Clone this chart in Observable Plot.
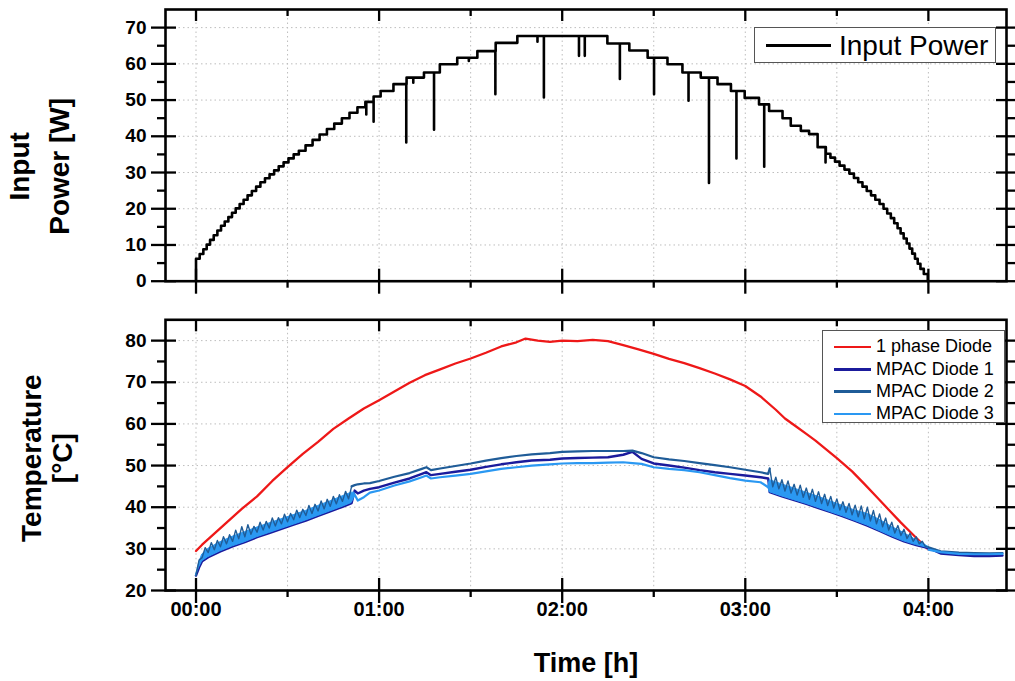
<!DOCTYPE html>
<html>
<head>
<meta charset="utf-8">
<script src="https://cdn.jsdelivr.net/npm/d3@7"></script>
<script src="https://cdn.jsdelivr.net/npm/@observablehq/plot@0.6"></script>
<style>
  body { margin: 0; background: #fff; }
  #wrap { position: relative; width: 1015px; height: 681px; overflow: hidden; background: #fff;
          font-family: "Liberation Sans", Arial, sans-serif; }
  #wrap svg { position: absolute; left: 0; overflow: visible; }
  .leg { position: absolute; background: #fff; border: 1.5px solid #555; box-sizing: border-box; }
  .leg .ln { position: absolute; }
  .leg .tx { position: absolute; white-space: nowrap; color: #000; }
</style>
</head>
<body>
<div id="wrap"></div>
<script>
// ---------- axis ticks (time in minutes) ----------
const hourTicks = [0, 60, 120, 180, 240];
const hourLabels = ["00:00", "01:00", "02:00", "03:00", "04:00"];
const halfHourTicks = [30, 90, 150, 210];
const gridX = [0, 30, 60, 90, 120, 150, 180, 210, 240];
const xDomain = [-10, 265.6];

const powerMajor = [0, 10, 20, 30, 40, 50, 60, 70];
const powerMinor = [5, 15, 25, 35, 45, 55, 65];
const powerGrid = [10, 20, 30, 40, 50, 60, 70];
const tempMajor = [20, 30, 40, 50, 60, 70, 80];
const tempMinor = [25, 35, 45, 55, 65, 75];
const tempGrid = [30, 40, 50, 60, 70, 80];

// ---------- Input power: step levels [minute, W] ----------
const powerSteps = [
  [0, 0], [0, 6.2], [1.2, 7.5], [2.4, 8.8], [3.5, 10.1], [4.6, 11.4], [5.8, 12.7], [7.0, 14.0],
  [8.2, 15.3], [9.4, 16.5], [10.6, 17.7], [11.8, 18.9], [13.0, 20.1], [14.3, 21.3], [15.6, 22.5],
  [16.9, 23.7], [18.3, 24.9], [19.7, 26.1], [21.1, 27.3], [22.6, 28.4], [24.1, 29.5], [25.6, 30.6],
  [27.1, 31.7], [28.7, 32.8], [30.3, 33.9], [32.0, 35.0], [33.7, 36.0], [35.9, 37.5], [38.2, 39.0],
  [40.5, 40.5], [42.9, 42.0], [45.3, 43.5], [47.8, 45.0], [50.3, 46.5], [52.9, 48.0], [55.5, 49.5],
  [58.2, 51.0], [60.5, 52.5], [64.7, 54.4], [69.0, 56.2], [74.7, 57.6], [79.9, 59.9], [85.6, 61.7],
  [92.2, 63.5], [98.2, 65.8], [105.3, 67.7], [134.8, 65.6], [142.0, 63.7], [148.0, 61.7],
  [154.5, 59.9], [159.4, 57.6], [165.4, 56.2], [170.9, 54.4], [175.3, 52.5], [179.8, 50.6],
  [184.5, 48.8], [187.8, 47.0], [192.2, 45.0], [194.9, 42.9], [198.2, 41.5], [200.9, 40.6],
  [203.7, 37.0], [206.4, 35.2], [207.9, 34.1], [209.4, 33.0], [210.9, 31.9], [212.5, 30.8],
  [214.1, 29.7], [215.6, 28.5], [217.0, 27.3], [218.4, 26.1], [219.8, 24.9], [221.2, 23.7],
  [222.6, 22.5], [224.0, 21.3], [225.3, 20.0], [226.5, 18.7], [227.7, 17.4], [228.8, 16.0],
  [229.9, 14.6], [230.9, 13.2], [231.9, 11.8], [232.9, 10.4], [233.8, 9.0], [234.7, 7.6],
  [235.6, 6.2], [236.5, 4.8], [237.4, 3.4], [238.5, 2.0], [239.8, 0]
];
// short drops of the input power [minute, lowest W]
const powerDips = [
  [55.8, 46.0], [58.2, 44.0], [68.9, 38.3], [71.2, 54.8], [78.0, 41.8], [89.4, 60.8],
  [98.1, 51.6], [111.9, 66.1], [114.0, 50.7], [125.5, 62.2], [127.4, 62.2], [138.9, 55.8],
  [150.1, 51.6], [161.4, 49.8], [168.1, 27.1], [177.1, 33.9], [186.2, 31.6], [206.3, 32.8]
];

// ---------- Temperatures ----------
const redT = [0, 2, 5, 10, 15, 20, 25, 30, 35, 40, 45, 50, 55, 60, 65, 70, 75, 80, 85, 90, 95, 100,
  105, 108, 112, 116, 120, 125, 130, 135, 140, 145, 150, 155, 160, 165, 170, 175, 180, 185, 190, 193,
  197, 200, 203, 206, 210, 215, 219, 223, 227, 231, 235, 238, 240];
const redV = [29.5, 31.0, 33.0, 36.3, 39.6, 42.6, 46.3, 49.6, 52.8, 55.7, 58.8, 61.3, 63.7, 65.7,
  67.8, 69.9, 71.7, 73.1, 74.5, 75.7, 77.1, 78.6, 79.6, 80.5, 80.0, 79.7, 80.0, 79.9, 80.2, 79.9,
  78.9, 77.9, 76.8, 75.6, 74.6, 73.4, 72.1, 70.7, 69.1, 66.6, 63.4, 61.3, 59.2, 57.6, 56.0, 54.2,
  51.8, 48.6, 45.6, 42.5, 39.4, 36.3, 33.4, 31.2, 29.9];

// smooth middle part of the MPAC diodes
const midT = [52, 53, 55, 57, 60, 65, 70, 74, 75.5, 77, 80, 85, 90, 95, 100, 105, 110, 116, 120,
  125, 130, 135, 140, 143, 146, 150, 155, 160, 165, 170, 175, 180, 185, 187.5];
const midD1 = [44.0, 43.3, 44.0, 44.4, 44.8, 45.9, 46.9, 48.0, 48.4, 47.7, 48.0, 48.5, 49.0, 49.7,
  50.3, 50.8, 51.2, 51.4, 51.7, 51.8, 51.9, 52.0, 52.6, 53.3, 51.6, 50.5, 50.0, 49.5, 48.9, 48.4,
  48.0, 47.6, 47.2, 46.9];
const midD2 = [45.3, 45.5, 45.7, 45.8, 46.3, 47.3, 48.2, 49.2, 49.6, 48.9, 49.3, 49.9, 50.5, 51.2,
  51.8, 52.3, 52.7, 53.0, 53.3, 53.4, 53.5, 53.5, 53.5, 53.6, 53.0, 52.0, 51.5, 51.1, 50.6, 50.1,
  49.6, 49.0, 48.4, 48.0];
const midD3 = [43.0, 41.6, 42.4, 43.5, 44.0, 45.2, 46.2, 47.2, 47.6, 46.9, 47.2, 47.6, 48.0, 48.6,
  49.2, 49.6, 50.0, 50.3, 50.5, 50.6, 50.6, 50.7, 50.8, 50.6, 50.4, 49.6, 49.2, 48.9, 48.4, 47.7,
  47.0, 46.4, 46.0, 44.8];

// first oscillating phase (00:00 - 00:52): band covered by the traces
const n1T = [0, 1, 2, 4, 8, 12, 16, 20, 24, 28, 32, 36, 40, 44, 48, 51, 52];
const n1Lo = [23.6, 25.5, 27.0, 28.0, 29.4, 30.6, 31.6, 32.8, 33.8, 34.8, 35.8, 36.8, 37.9, 39.0,
  40.1, 41.0, 42.5];
const n1Hi = [23.6, 26.5, 28.6, 30.0, 31.6, 32.9, 34.0, 35.1, 36.1, 37.1, 38.1, 39.1, 40.3, 41.4,
  42.6, 43.5, 43.5];
// MPAC Diode 2 oscillation, one value per minute from minute 0
const spike1Start = 0;
const spike1V = [23.6, 27.3, 27.9, 30.3, 29.1, 31.5, 29.8, 32.0, 30.5, 32.9, 31.2, 33.4, 31.8, 34.5,
  32.4, 35.3, 32.9, 35.8, 33.5, 35.4, 34.0, 36.4, 34.5, 36.6, 35.0, 37.4, 35.5, 37.5, 36.0, 38.3,
  36.5, 38.5, 37.0, 39.3, 37.5, 39.5, 38.0, 40.4, 38.5, 40.7, 39.1, 41.5, 39.6, 41.9, 40.2, 42.6,
  40.8, 43.0, 41.4, 43.8, 42.0, 45.0];

// second oscillating phase (03:08 - 04:00)
const n2T = [187.5, 188, 192, 196, 200, 204, 208, 212, 216, 220, 224, 228, 232, 236, 240];
const n2Lo = [44.8, 43.6, 42.6, 41.7, 40.8, 39.8, 38.8, 37.8, 36.7, 35.6, 34.3, 33.0, 31.8, 30.9, 30.2];
const n2Hi = [44.8, 46.5, 45.5, 44.5, 43.5, 42.5, 41.4, 40.3, 39.2, 38.4, 37.0, 35.3, 33.8, 32.1, 30.5];
const spike2Start = 188;
const spike2V = [49.3, 44.9, 47.2, 44.4, 46.6, 43.9, 46.3, 43.4, 45.5, 42.9, 45.3, 42.4, 44.6, 41.9,
  44.3, 41.4, 43.7, 40.9, 43.1, 40.4, 42.6, 39.8, 42.0, 39.3, 41.3, 38.8, 40.9, 38.2, 40.5, 37.7,
  40.3, 37.2, 40.0, 36.7, 39.2, 36.0, 38.4, 35.3, 37.4, 34.5, 36.4, 33.8, 35.6, 33.2, 34.7, 32.5,
  33.7, 31.8, 32.9, 31.2, 31.8, 30.6, 30.4];

// after 04:00
const tailT = [240, 244, 250, 255, 260, 264.3];
const tailD1 = [29.5, 28.9, 28.5, 28.3, 28.3, 28.4];
const tailD2 = [30.0, 29.4, 29.1, 29.0, 28.9, 29.0];
const tailD3 = [29.8, 29.2, 28.8, 28.7, 28.7, 28.8];

const seriesNames = ["1 phase Diode", "MPAC Diode 1", "MPAC Diode 2", "MPAC Diode 3"];
const seriesColors = ["#ee1818", "#1b1b9c", "#1f5c98", "#2a98f2"];

// ---------- build tables ----------
const powerData = [];
powerSteps.forEach(([t, w], i) => {
  powerData.push({t, w});
  const next = i + 1 < powerSteps.length ? powerSteps[i + 1][0] : Infinity;
  powerDips.filter(([dt]) => dt >= t && dt < next).forEach(([dt, dw]) => {
    powerData.push({t: dt, w}, {t: dt, w: dw}, {t: dt, w});
  });
});

const seg = (T, V) => T.map((t, i) => ({t, v: V[i]}));
const band = (T, L, H) => T.map((t, i) => ({t, lo: L[i], hi: H[i]}));
const spikes = (start, V) => V.map((v, i) => ({t: start + i, v}));

const redData = seg(redT, redV);
const d1Data = [...seg(n1T, n1Lo).slice(0, -1), ...seg(midT, midD1), ...seg(n2T, n2Lo).slice(1), ...seg(tailT, tailD1).slice(1)];
const d2Osc1 = spikes(spike1Start, spike1V);
const d2Osc2 = spikes(spike2Start, spike2V);
const d2Smooth = [...d2Osc1.slice(-1), ...seg(midT, midD2), ...d2Osc2.slice(0, 1)];
const d2Tail = [...d2Osc2.slice(-1), ...seg(tailT, tailD2).slice(1)];
const d3Mid = seg(midT, midD3);
const d3Tail = seg(tailT, tailD3);
const band1 = band(n1T, n1Lo, n1Hi);
const band2 = band(n2T, n2Lo, n2Hi);

// ---------- shared frame / axes ----------
const FONT = '"Liberation Sans", Arial, sans-serif';
const NARROW = '"Liberation Sans Narrow", "Arial Narrow", "Liberation Sans", Arial, sans-serif';
const blank = () => "";
const grid = {stroke: "#bdbdbd", strokeDasharray: "1.5,3", strokeWidth: 1};

function frameMarks(yMajor, yMinor) {
  return [
    Plot.frame({stroke: "#000", strokeWidth: 2.6}),
    Plot.axisY(yMajor, {anchor: "left", tickSize: 25, dx: 11, tickFormat: blank, label: null, strokeWidth: 2.3}),
    Plot.axisY(yMinor, {anchor: "left", tickSize: 8, tickFormat: blank, label: null, strokeWidth: 2.3}),
    Plot.axisY(yMajor, {anchor: "right", tickSize: 25, dx: -11, tickFormat: blank, label: null, strokeWidth: 2.3}),
    Plot.axisY(yMinor, {anchor: "right", tickSize: 8, tickFormat: blank, label: null, strokeWidth: 2.3}),
    Plot.axisY(yMajor, {anchor: "left", tickSize: 0, tickPadding: 19, label: null,
      fontSize: 19, fontWeight: "bold", fontFamily: FONT}),
    Plot.axisX(hourTicks, {anchor: "top", tickSize: 11, dy: 11, tickFormat: blank, label: null, strokeWidth: 2.3}),
    Plot.axisX(halfHourTicks, {anchor: "top", tickSize: 6, dy: 6, tickFormat: blank, label: null, strokeWidth: 2.3}),
    Plot.axisX(hourTicks, {anchor: "bottom", tickSize: 25, dy: -12, tickFormat: blank, label: null, strokeWidth: 2.3}),
    Plot.axisX(halfHourTicks, {anchor: "bottom", tickSize: 7, tickFormat: blank, label: null, strokeWidth: 2.3})
  ];
}

const common = {
  width: 1015, marginLeft: 165, marginRight: 9,
  x: {domain: xDomain},
  style: {fontFamily: FONT, fontSize: "18px", color: "#000", background: "transparent", overflow: "visible"}
};

// ---------- top panel ----------
const topPlot = Plot.plot({
  ...common,
  height: 300, marginTop: 9, marginBottom: 19.3,
  y: {domain: [0, 75]},
  marks: [
    Plot.ruleX(gridX, grid),
    Plot.ruleY(powerGrid, grid),
    Plot.line(powerData, {x: "t", y: "w", curve: "step-after", stroke: "#000", strokeWidth: 2.6}),
    ...frameMarks(powerMajor, powerMinor),
    Plot.text(["Input\nPower [W]"], {frameAnchor: "left", dx: -129, dy: 21, rotate: -90,
      fontSize: 28, fontWeight: "bold", fontFamily: FONT, lineHeight: 1.42,
      textAnchor: "middle", lineAnchor: "middle"})
  ]
});
topPlot.style.top = "0px";

// ---------- bottom panel ----------
const bottomPlot = Plot.plot({
  ...common,
  height: 381, marginTop: 19.3, marginBottom: 91,
  y: {domain: [20, 85]},
  marks: [
    Plot.ruleX(gridX, grid),
    Plot.ruleY(tempGrid, grid),
    Plot.line(redData, {x: "t", y: "v", stroke: seriesColors[0], strokeWidth: 2.3}),
    Plot.line(d1Data, {x: "t", y: "v", stroke: seriesColors[1], strokeWidth: 2.4}),
    Plot.line(d2Smooth, {x: "t", y: "v", stroke: seriesColors[2], strokeWidth: 2.2}),
    Plot.line(d2Tail, {x: "t", y: "v", stroke: seriesColors[2], strokeWidth: 2.2}),
    Plot.areaY(band1, {x: "t", y1: "lo", y2: "hi", fill: seriesColors[3], stroke: seriesColors[3], strokeWidth: 1}),
    Plot.areaY(band2, {x: "t", y1: "lo", y2: "hi", fill: seriesColors[3], stroke: seriesColors[3], strokeWidth: 1}),
    Plot.line(d2Osc1, {x: "t", y: "v", stroke: seriesColors[2], strokeWidth: 1.4}),
    Plot.line(d2Osc2, {x: "t", y: "v", stroke: seriesColors[2], strokeWidth: 1.4}),
    Plot.line(d3Mid, {x: "t", y: "v", stroke: seriesColors[3], strokeWidth: 2.2}),
    Plot.line(d3Tail, {x: "t", y: "v", stroke: seriesColors[3], strokeWidth: 2.2}),
    ...frameMarks(tempMajor, tempMinor),
    Plot.axisX(hourTicks, {anchor: "bottom", tickSize: 0, tickPadding: 11, label: null,
      tickFormat: t => hourLabels[hourTicks.indexOf(t)],
      fontSize: 20, fontWeight: "bold", fontFamily: NARROW}),
    Plot.text(["Temperature\n[°C]"], {frameAnchor: "left", dx: -119, dy: 3, rotate: -90,
      fontSize: 28, fontWeight: "bold", fontFamily: FONT, lineHeight: 1.1,
      textAnchor: "middle", lineAnchor: "middle"}),
    Plot.text(["Time [h]"], {frameAnchor: "bottom", dy: 73, fontSize: 27, fontWeight: "bold",
      fontFamily: NARROW, lineAnchor: "middle"})
  ]
});
bottomPlot.style.top = "300px";

const wrap = document.getElementById("wrap");
wrap.appendChild(topPlot);
wrap.appendChild(bottomPlot);

// ---------- legends ----------
function legend(box, rows, lineW, lineH, textLeft, fontSize, rowTop, rowGap) {
  const div = document.createElement("div");
  div.className = "leg";
  Object.assign(div.style, {left: box[0] + "px", top: box[1] + "px", width: box[2] + "px", height: box[3] + "px"});
  rows.forEach(([name, color], i) => {
    const cy = rowTop + i * rowGap;
    const ln = document.createElement("div");
    ln.className = "ln";
    Object.assign(ln.style, {left: "11px", top: (cy - lineH / 2) + "px", width: lineW + "px", height: lineH + "px", background: color});
    const tx = document.createElement("div");
    tx.className = "tx";
    tx.textContent = name;
    Object.assign(tx.style, {left: textLeft + "px", top: (cy - fontSize * 0.6) + "px", fontSize: fontSize + "px", lineHeight: (fontSize * 1.2) + "px"});
    div.appendChild(ln);
    div.appendChild(tx);
  });
  wrap.appendChild(div);
}
legend([754, 27, 242, 36], [["Input Power", "#000"]], 65, 3, 84, 28, 17.5, 0);
legend([822, 330, 183, 93], seriesNames.map((n, i) => [n, seriesColors[i]]), 37, 2.5, 53, 18, 16, 22.3);
</script>
</body>
</html>
